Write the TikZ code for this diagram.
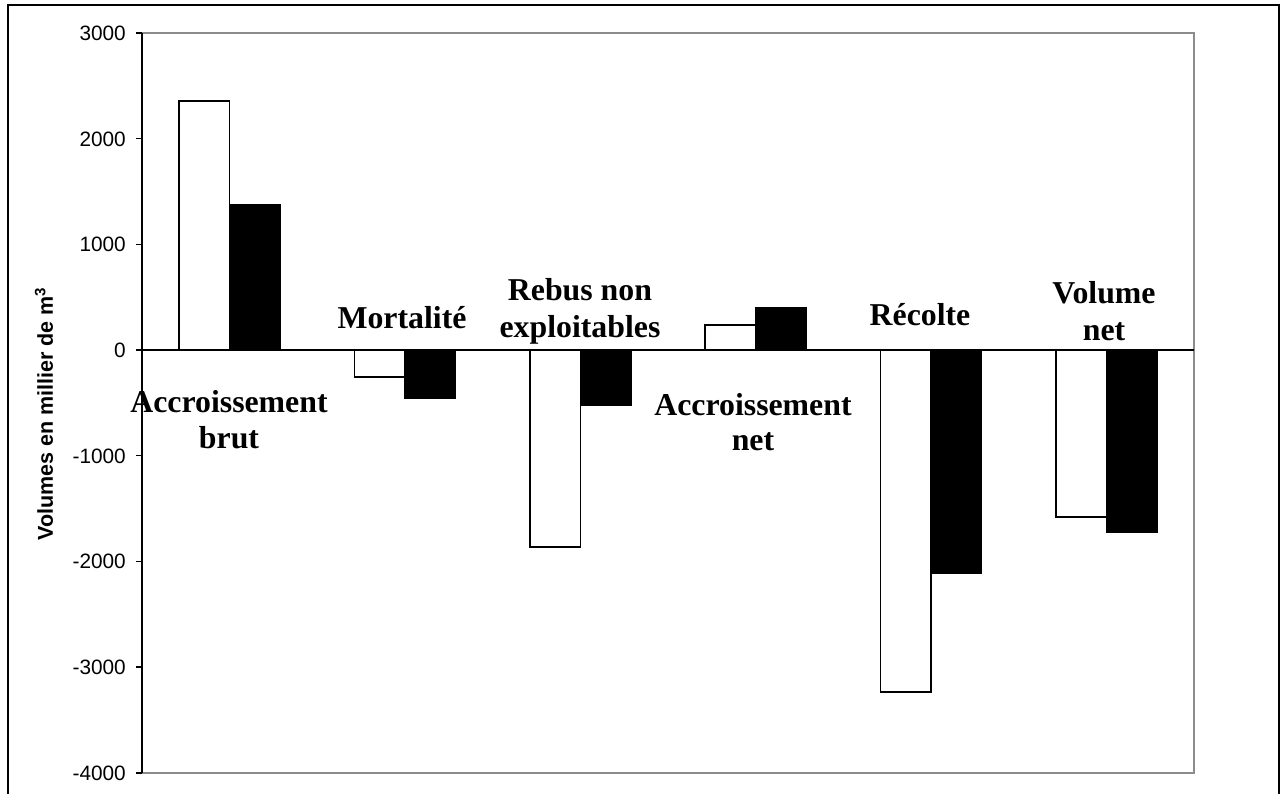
\documentclass[tikz,border=0pt]{standalone}
\usepackage{fontspec}
\setmainfont{Liberation Serif}
\setsansfont{Liberation Sans}
\begin{document}
\begin{tikzpicture}[x=1pt,y=-1pt,
  cat/.style={font=\fontsize{31.8}{36}\selectfont\bfseries, inner sep=0pt, anchor=base},
  ticklab/.style={font=\sffamily\fontsize{20.8}{24}\selectfont, inner sep=0pt, anchor=base east},
  wbar/.style={draw=black, line width=1.5pt, fill=white},
  bbar/.style={draw=black, line width=1.5pt, fill=black},
  border/.style={draw={rgb,255:red,140;green,140;blue,140}, line width=1.6pt},
  axisline/.style={draw=black, line width=1.4pt}]
\useasboundingbox (0,0) rectangle (1281,794);
\fill[white] (0,0) rectangle (1281,794);
\draw[line width=2pt] (8,794) -- (8,5) -- (1279,5) -- (1279,794);
% plot area border
\draw[border] (142,33) -- (1194,33) -- (1194,773) -- (142,773);
% bars
\draw[wbar] (179.2,350) rectangle (229.7,101);
\draw[bbar] (229.7,350) rectangle (280.2,205);
\draw[wbar] (354.5,350) rectangle (405,377);
\draw[bbar] (405,350) rectangle (455.5,398);
\draw[wbar] (529.8,350) rectangle (580.3,547);
\draw[bbar] (580.3,350) rectangle (630.8,405);
\draw[wbar] (705.2,350) rectangle (755.7,325);
\draw[bbar] (755.7,350) rectangle (806.2,308);
\draw[wbar] (880.5,350) rectangle (931,692);
\draw[bbar] (931,350) rectangle (981.5,573);
\draw[wbar] (1055.8,350) rectangle (1106.3,517);
\draw[bbar] (1106.3,350) rectangle (1156.8,532);
% axis and zero line
\draw[axisline] (142,33) -- (142,773);
\draw[axisline] (142,350) -- (1194,350);
% ticks and labels
\foreach \v/\y/\n in {3000/33/t3, 2000/138.7/t2, 1000/244.3/t1, 0/350/t0, -1000/455.7/tm1, -2000/561.4/tm2, -3000/667.1/tm3, -4000/772.9/tm4}{
  \draw[axisline] (136,\y) -- (142,\y);
  \node[ticklab] (\n) at (126,\y+7.4) {\v};
}
% y label
\node[rotate=90, font=\sffamily\bfseries\fontsize{21.5}{25}\selectfont, inner sep=0pt] (ylab) at (44,414) {Volumes en millier de m\textsuperscript{3}};
% category labels
\node[cat] (acb1) at (229,412) {Accroissement};
\node[cat] (acb2) at (229,448) {brut};
\node[cat] (mort) at (402,328) {Mortalité};
\node[cat] (reb1) at (580,300) {Rebus non};
\node[cat] (reb2) at (580,337) {exploitables};
\node[cat] (acn1) at (753,415) {Accroissement};
\node[cat] (acn2) at (753,450) {net};
\node[cat] (rec) at (920,325) {Récolte};
\node[cat] (vol1) at (1104,303) {Volume};
\node[cat] (vol2) at (1104,340) {net};
\end{tikzpicture}
\end{document}
